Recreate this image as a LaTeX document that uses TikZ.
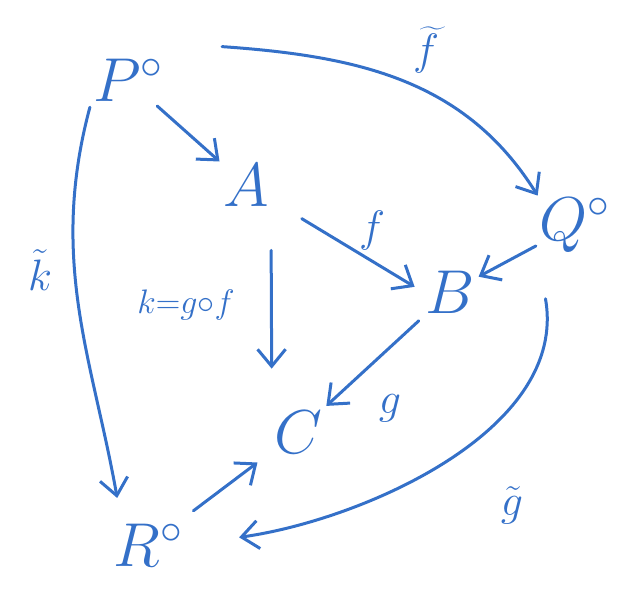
\RequirePackage{fix-cm}
\documentclass[tikz,border=0pt]{standalone}
\usepackage{amsmath}
\usetikzlibrary{arrows.meta}
\definecolor{ink}{RGB}{52,112,200}
\begin{document}
\begin{tikzpicture}[
      x=1pt, y=-1pt,
      every node/.style={align=center, text=ink, inner sep=2pt},
      obj/.style={font=\fontsize{62}{66}\selectfont},
      lbl/.style={font=\fontsize{44}{48}\selectfont},
      arrow/.style={-{Straight Barb[length=17pt,width=28pt,line width=3pt]}, line width=3pt, draw=ink, line cap=round}
    ]
      \useasboundingbox (0,0) rectangle (621,592);

      % Objects
      \node[obj] (P) at (128,80) {$P^{\circ}$};
      \node[obj] (A) at (246,185) {$A$};
      \node[obj] (B) at (450,292) {$B$};
      \node[obj] (Q) at (575,225) {$Q^{\circ}$};
      \node[obj] (C) at (298,432) {$C$};
      \node[obj] (R) at (148,545) {$R^{\circ}$};

      % Labels
      \node[lbl] (lf) at (372,230) {$f$};
      \node[lbl, font=\fontsize{34}{38}\selectfont] (lk) at (186,305) {$k{=}g{\circ}f$};
      \node[lbl] (lg) at (390,408) {$g$};
      \node[lbl] (lft) at (426,50) {$\widetilde{f}$};
      \node[lbl] (lkt) at (40,270) {$\tilde{k}$};
      \node[lbl] (lgt) at (512,505) {$\tilde{g}$};

      % Arrows
      \draw[arrow, shorten <=4pt, shorten >=2pt] (P) -- (A);
      \draw[arrow, shorten <=36pt, shorten >=10pt] (A) -- (B.west);
      \draw[arrow, shorten <=42pt, shorten >=40pt] (A.south east) -- (C.north west);
      \draw[arrow, shorten <=2pt, shorten >=2pt] (Q) -- (B);
      \draw[arrow, shorten <=8pt, shorten >=4pt] (B) -- (C);
      \draw[arrow, shorten <=18pt, shorten >=18pt] (R) -- (C);

      % Curved arrows
      \draw[arrow] ([shift={(57,-10)}]P.north east) to[out=-4, in=122] (Q.north west);
      \draw[arrow, shorten <=4pt, shorten >=24pt] (P.south west) to[out=-105, in=100] ([xshift=10pt]R.north west);
      \draw[arrow, shorten <=45pt, shorten >=55pt] (Q.south west) to[out=-80, in=8] (R.east);
    \end{tikzpicture}
\end{document}
